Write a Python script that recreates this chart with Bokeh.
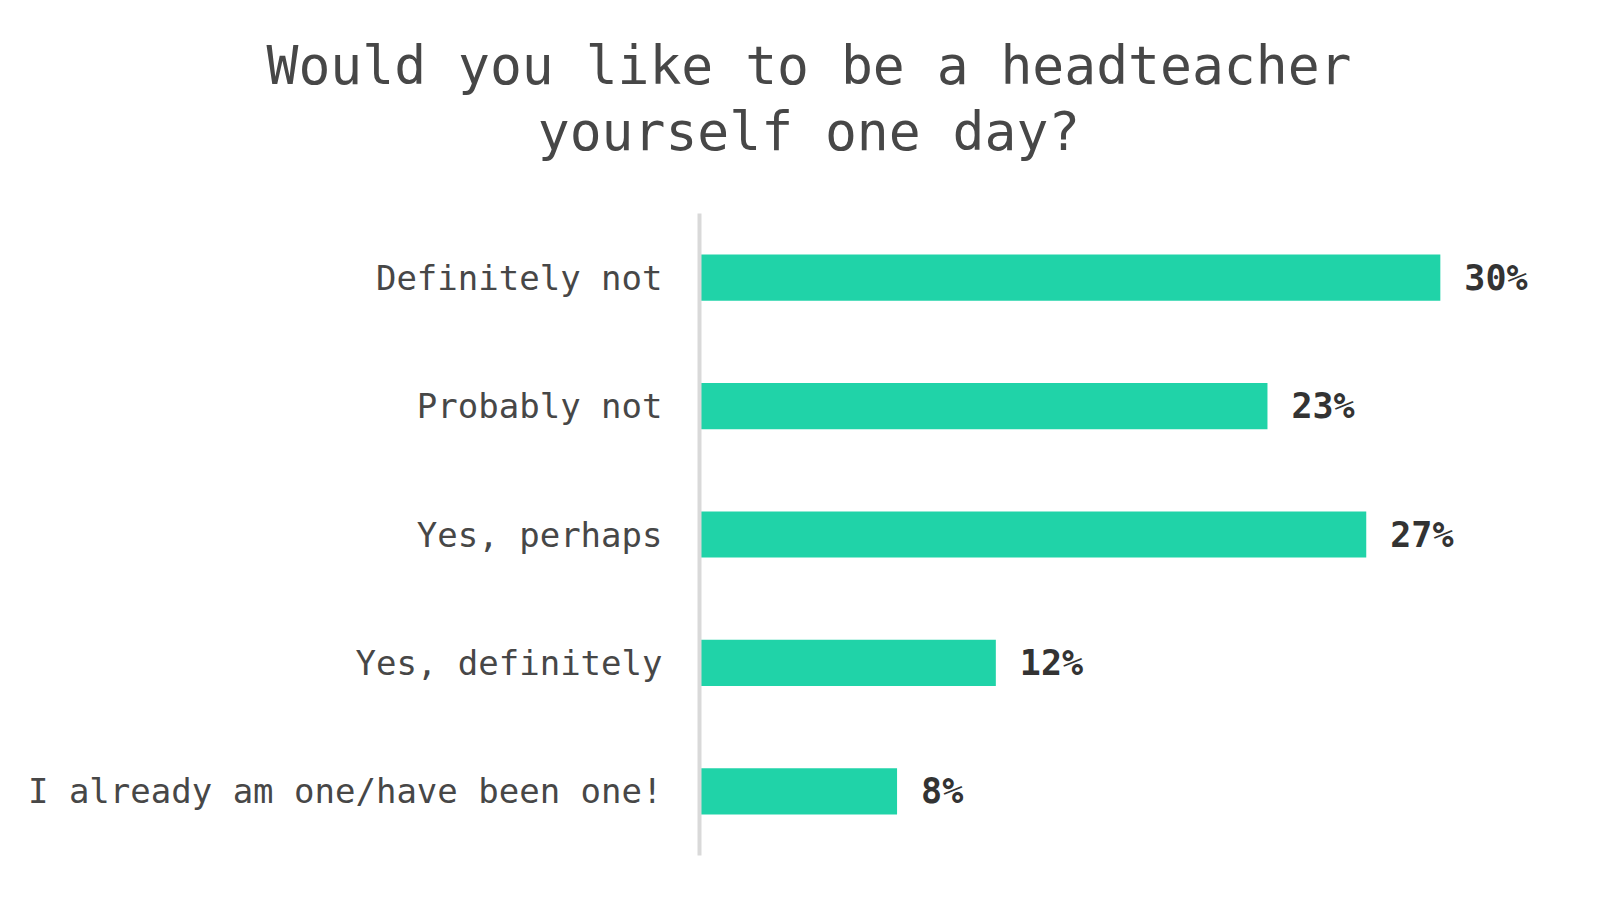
from bokeh.plotting import figure
from bokeh.layouts import column
from bokeh.models import FactorRange, ColumnDataSource, Range1d
from bokeh.core.properties import value
from bokeh.embed import file_html
from bokeh.resources import INLINE

# Survey answers, top to bottom, and the share of respondents for each
answers = [
    "Definitely not",
    "Probably not",
    "Yes, perhaps",
    "Yes, definitely",
    "I already am one/have been one!",
]
shares = [30, 23, 27, 12, 8]
share_labels = [f"{s}%" for s in shares]

title_lines = ["Would you like to be a headteacher", "yourself one day?"]

MONO = "DejaVu Sans Mono"
BAR_COLOR = "#20d3a8"
TEXT_GREY = "#474747"

W = 1617
HEAD_H = 213              # height of the heading strip
BODY_H = 899 - HEAD_H     # height of the bar chart
LEFT, RIGHT, BOTTOM = 699, 29, 44

# --- heading strip: a bare figure whose frame is the whole strip ---
head = figure(
    width=W, height=HEAD_H,
    x_range=Range1d(0, W), y_range=Range1d(HEAD_H, 0),
    x_axis_location=None, y_axis_location=None,
    output_backend="svg", toolbar_location=None,
    min_border=0,
)
head.frame_align = False
head.outline_line_color = None
head.xgrid.visible = False
head.ygrid.visible = False
head_src = ColumnDataSource(dict(x=[W / 2, W / 2], y=[65, 131], text=title_lines))
head.text(x="x", y="y", text="text", source=head_src,
          text_align="center", text_baseline="alphabetic",
          text_font=value(MONO), text_font_size="53px", text_color=TEXT_GREY)

# --- horizontal bar chart ---
source = ColumnDataSource(dict(answer=answers, share=shares, label=share_labels))

p = figure(
    width=W, height=BODY_H,
    y_range=FactorRange(factors=list(reversed(answers))),
    x_range=(0, 36),
    x_axis_location=None,
    output_backend="svg",
    toolbar_location=None,
    min_border_left=LEFT, min_border_right=RIGHT,
    min_border_top=0, min_border_bottom=BOTTOM,
)
p.frame_align = False
p.outline_line_color = None
p.xgrid.visible = False
p.ygrid.visible = False

p.hbar(y="answer", right="share", left=0, height=0.36, source=source,
       fill_color=BAR_COLOR, line_color=None)

p.text(x="share", y="answer", text="label", source=source,
       x_offset=24, text_baseline="middle", text_align="left",
       text_font=value(MONO), text_font_style="bold",
       text_font_size="35px", text_color="#333333")

yax = p.yaxis[0]
yax.axis_line_color = "#d9d9d9"
yax.axis_line_width = 4
yax.major_tick_line_color = None
yax.minor_tick_line_color = None
yax.major_label_standoff = 31
yax.major_label_text_font = MONO
yax.major_label_text_font_size = "34px"
yax.major_label_text_color = TEXT_GREY

layout = column(head, p, spacing=0)

open("out.html", "w").write(file_html(layout, INLINE))
